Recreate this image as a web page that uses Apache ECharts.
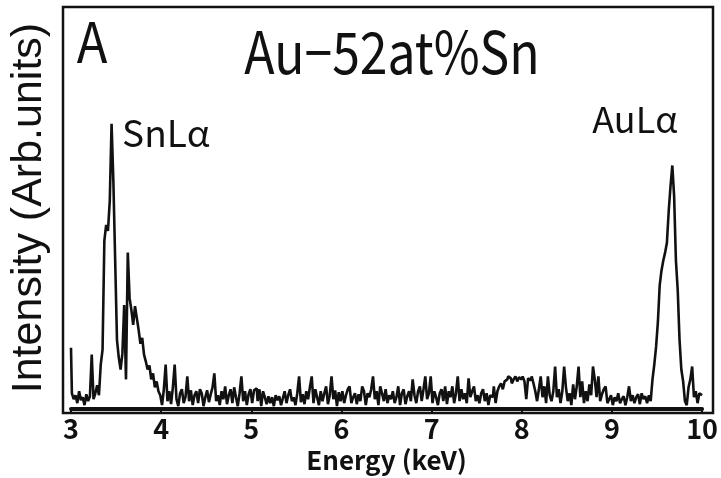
<!DOCTYPE html>
<html>
<head>
<meta charset="utf-8">
<title>Au-52at%Sn EDS</title>
<script src="https://cdn.jsdelivr.net/npm/echarts@6/dist/echarts.min.js"></script>
<style>
  html, body { margin: 0; padding: 0; background: #fff; }
  #main { width: 721px; height: 478px; }
</style>
</head>
<body>
<div id="main"></div>
<script>
// spectrum channels: 3.00 .. 10.00 keV, 0.02 keV apart
var energyStart = 3.0;
var energyStep = 0.02;
// counts (arb. units, 0 = baseline, 406 = top of frame)
var counts = [
  62, 16, 10, 14, 6, 18, 9, 12, 4, 15,
  8, 13, 55, 10, 16, 24, 14, 45, 60, 170,
  186, 180, 210, 288, 230, 150, 70, 52, 40, 56,
  105, 30, 158, 112, 100, 85, 104, 92, 80, 66,
  72, 55, 48, 40, 44, 30, 36, 22, 28, 18,
  14, 4, 20, 45, 8, 18, 5, 22, 45, 10,
  3, 16, 20, 6, 12, 33, 8, 19, 4, 14,
  18, 6, 20, 16, 3, 12, 19, 7, 15, 22,
  36, 8, 14, 4, 18, 10, 23, 5, 14, 20,
  6, 22, 12, 3, 16, 33, 8, 18, 4, 15,
  20, 6, 19, 21, 8, 20, 3, 18, 12, 5,
  13, 6, 12, 3, 14, 9, 13, 4, 11, 18,
  6, 14, 20, 8, 12, 4, 16, 33, 7, 15,
  5, 18, 10, 22, 33, 6, 20, 12, 4, 18,
  8, 16, 23, 5, 14, 33, 10, 19, 3, 17,
  8, 18, 6, 14, 20, 23, 6, 12, 16, 5,
  15, 8, 23, 18, 4, 16, 12, 20, 33, 10,
  18, 4, 23, 16, 8, 20, 6, 14, 10, 18,
  6, 12, 23, 4, 16, 20, 5, 13, 18, 8,
  30, 14, 6, 18, 23, 8, 20, 33, 10, 16,
  33, 6, 18, 12, 4, 16, 20, 8, 23, 5,
  18, 12, 23, 6, 16, 33, 8, 20, 10, 16,
  6, 31, 12, 18, 23, 8, 14, 6, 16, 20,
  8, 16, 4, 14, 12, 23, 6, 18, 23, 26,
  20, 28, 30, 33, 31, 26, 30, 33, 28, 32,
  30, 33, 28, 10, 31, 29, 33, 26, 18, 8,
  20, 33, 12, 23, 6, 33, 14, 8, 18, 43,
  12, 20, 6, 18, 43, 22, 8, 16, 4, 25,
  10, 23, 43, 12, 28, 6, 18, 8, 25, 14,
  43, 30, 12, 33, 8, 15, 20, 23, 6, 10,
  14, 4, 12, 8, 16, 6, 10, 13, 4, 12,
  23, 8, 14, 6, 12, 15, 5, 16, 10, 13,
  6, 14, 8, 30, 45, 63, 88, 125, 140, 150,
  158, 168, 200, 225, 246, 215, 150, 120, 70, 40,
  28, 8, 4, 22, 30, 43, 12, 18, 6, 16,
  14
];
var xMin = 3, xMax = 10, xStep = 1;
var titleText = 'Au\u221252at%Sn';
var panelText = 'A';
var peakLabels = ['SnL\u03b1', 'AuL\u03b1'];

var points = counts.map(function (c, i) {
  return [+(energyStart + i * energyStep).toFixed(2), c];
});

var font = '"Noto Sans CJK JP", "Noto Sans", sans-serif';
var chart = echarts.init(document.getElementById('main'), null, { renderer: 'canvas' });
chart.setOption({
  animation: false,
  backgroundColor: '#fff',
  grid: { left: 65, right: 13, top: 7, bottom: 65 },
  xAxis: {
    type: 'value',
    min: xMin, max: xMax, interval: xStep,
    name: 'Energy (keV)',
    nameLocation: 'middle',
    nameGap: 32,
    nameTextStyle: { fontFamily: font, fontSize: 26, fontWeight: 'bold', color: '#111' },
    axisLine: { lineStyle: { color: '#111', width: 4 } },
    axisTick: { show: true, length: 4, lineStyle: { color: '#111', width: 2 } },
    axisLabel: { fontFamily: font, fontSize: 27, fontWeight: 'bold', color: '#111', margin: 6 },
    splitLine: { show: false }
  },
  yAxis: {
    type: 'value',
    min: 0, max: 406,
    name: 'Intensity (Arb.units)',
    nameLocation: 'middle',
    nameGap: 20,
    nameTextStyle: { fontFamily: '"Liberation Sans", Arial, sans-serif', fontSize: 43, color: '#111' },
    axisLine: { show: false },
    axisTick: { show: false },
    axisLabel: { show: false },
    splitLine: { show: false }
  },
  series: [{
    type: 'line',
    step: 'middle',
    data: points,
    symbol: 'none',
    lineStyle: { color: '#111', width: 2.6 }
  }],
  graphic: [
    { type: 'rect', shape: { x: 63, y: 7, width: 650, height: 406 },
      style: { fill: 'none', stroke: '#111', lineWidth: 2.5 }, z: 10 },
    { type: 'text', x: 92, y: 42, scaleX: 0.9,
      style: { text: panelText, font: '56px ' + font, fill: '#111',
        textAlign: 'center', textVerticalAlign: 'middle', align: 'center', verticalAlign: 'middle' } },
    { type: 'text', x: 392, y: 52, scaleX: 0.86,
      style: { text: titleText, font: '58px ' + font, fill: '#111',
        textAlign: 'center', textVerticalAlign: 'middle', align: 'center', verticalAlign: 'middle' } },
    { type: 'text', x: 166, y: 133,
      style: { text: peakLabels[0], font: '37px ' + font, fill: '#111',
        textAlign: 'center', textVerticalAlign: 'middle', align: 'center', verticalAlign: 'middle' } },
    { type: 'text', x: 635, y: 119,
      style: { text: peakLabels[1], font: '36px ' + font, fill: '#111',
        textAlign: 'center', textVerticalAlign: 'middle', align: 'center', verticalAlign: 'middle' } }
  ]
});
</script>
</body>
</html>
